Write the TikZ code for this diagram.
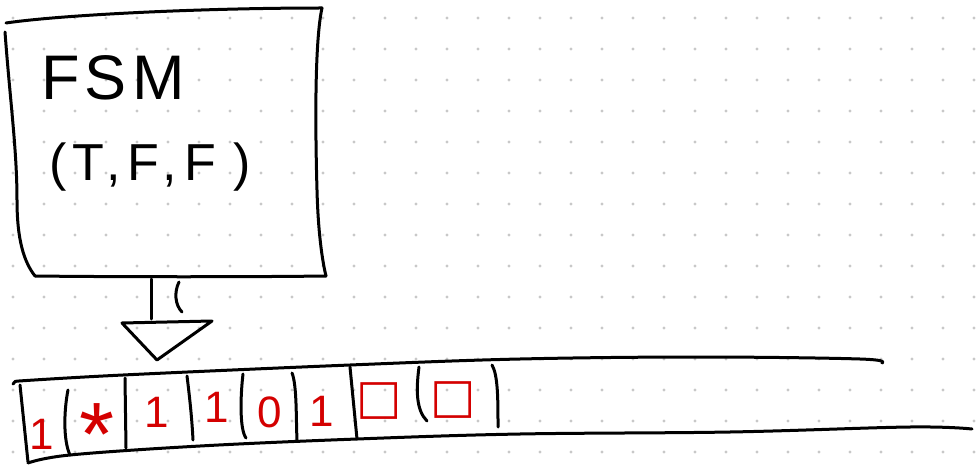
\documentclass[tikz,border=0pt]{standalone}
\usepackage{fontspec}
\setmainfont{Liberation Sans}
\newfontfamily\symfont{DejaVu Sans}
\definecolor{dotgray}{RGB}{200,200,200}
\definecolor{inkred}{RGB}{212,0,0}
\begin{document}
\begin{tikzpicture}[x=1pt,y=-1pt,line width=3pt,line cap=round,line join=round,
  ink/.style={draw=black},
  sym/.style={text=inkred,inner sep=0pt,font=\fontsize{44}{48}\selectfont},
  label/.style={inner sep=0pt,anchor=base west}]
\useasboundingbox (0,0) rectangle (976,465);
\fill[white] (0,0) rectangle (976,465);
% dot grid
\foreach \i in {0,...,31}{
  \foreach \j in {0,...,14}{
    \fill[dotgray] ({13+31*\i},{18+31*\j}) circle (1.6pt);
  }
}
% FSM box
\coordinate (tl) at (6,23);
\coordinate (tr) at (322,8);
\coordinate (br) at (326,276);
\coordinate (bl) at (35,276);
\draw[ink] (tl) .. controls (60,15) and (200,8) .. (tr);
\draw[ink] (tr) .. controls (315,40) and (315,120) .. (317,190) .. controls (318,230) and (322,260) .. (br);
\draw[ink] (bl) .. controls (120,277) and (250,277) .. (br);
\draw[ink] (5,32) .. controls (10,100) and (17,150) .. (17,200) .. controls (17,240) and (24,262) .. (bl);
\node[label] (fsm) at (40,100) {\fontsize{63}{70}\selectfont F\hspace{5pt}S\hspace{6pt}M};
\node[label] (tuple) at (48,181) {\fontsize{52}{60}\selectfont (\hspace{6pt}T\hspace{2pt},\hspace{6pt}F\hspace{4pt},\hspace{7pt}F\hspace{18pt})};
% arrow from FSM to tape
\coordinate (a1) at (151,279);
\coordinate (a2) at (151,319);
\draw[ink] (a1) -- (a2);
\draw[ink] (179,282) .. controls (174,292) and (175,305) .. (182,312);
\coordinate (t1) at (122,323);
\coordinate (t2) at (212,321);
\coordinate (t3) at (157,360);
\draw[ink] (t1) -- (t2) -- (t3) -- cycle;
% tape
\draw[ink] (13,384) .. controls (14,381) and (16,381) .. (19,381)
  plot[smooth,tension=0.6] coordinates {(19,381) (123,375) (350,365) (520,359) (700,357) (860,359) (882,363)};
\draw[ink] plot[smooth,tension=0.6] coordinates {(28,463) (70,455) (200,446) (357,439) (520,434) (730,432) (910,427) (972,429)};
\draw[ink] (20,385) -- (28,462);
\draw[ink] (68,390) .. controls (64,410) and (63,440) .. (70,455);
\draw[ink] (125,378) -- (126,448);
\draw[ink] (187,376) .. controls (190,400) and (192,420) .. (193,440);
\draw[ink] (243,374) .. controls (240,400) and (240,430) .. (246,438);
\draw[ink] (292,373) .. controls (297,385) and (296,420) .. (297,440);
\draw[ink] (350,367) -- (357,439);
\draw[ink] (419,367) .. controls (416,390) and (416,410) .. (427,421);
\draw[ink] (492,365) .. controls (498,375) and (498,400) .. (498,427);
% tape symbols
\node[sym] (c1) at (42,434) {1};
\node[sym,anchor=base,font=\fontsize{90}{90}\selectfont] (c2) at (97,438) {\raisebox{-27pt}[36pt][0pt]{*}};
\node[sym] (c3) at (157,412) {1};
\node[sym] (c4) at (217,407) {1};
\node[sym] (c5) at (270,412) {0};
\node[sym] (c6) at (322,411) {1};
\node[sym,font=\symfont\fontsize{48}{48}\selectfont] (c7) at (379,401) {□};
\node[sym,font=\symfont\fontsize{48}{48}\selectfont] (c8) at (453,400) {□};
\end{tikzpicture}
\end{document}
